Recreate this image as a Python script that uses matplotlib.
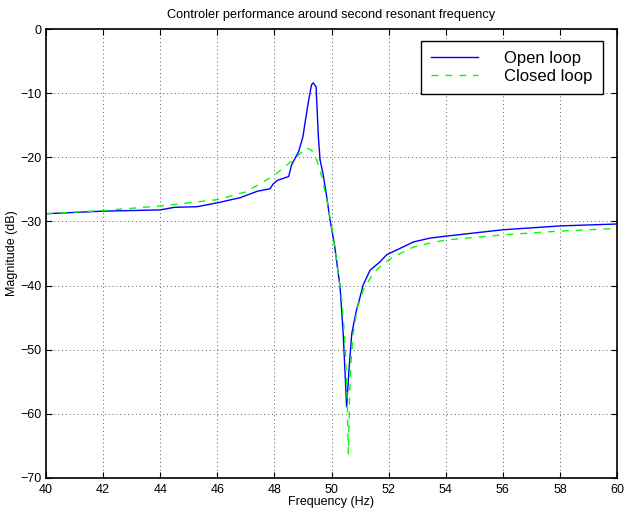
import matplotlib
matplotlib.use("Agg")
import matplotlib.pyplot as plt

plt.rcParams['font.family'] = ['Liberation Sans', 'DejaVu Sans']

title = "Controler performance around second resonant frequency"
xlabel = "Frequency (Hz)"
ylabel = "Magnitude (dB)"
labels = ["Open loop", "Closed loop"]

f_open = [40, 42, 44, 44.5, 45.3, 46, 46.8, 47.4, 47.85, 47.95, 48.1, 48.5, 48.6, 48.85, 49.0,
          49.07, 49.2, 49.3, 49.36, 49.46, 49.54, 49.6, 49.7, 49.82, 49.95, 50.1, 50.3,
          50.41, 50.53, 50.62, 50.71, 50.86, 51.0, 51.11, 51.35, 51.7, 51.93, 52.4,
          52.87, 53.45, 54, 56, 58, 60]
m_open = [-28.8, -28.4, -28.2, -27.8, -27.7, -27.1, -26.3, -25.3, -24.9, -24.2, -23.6, -23.0,
          -21.2, -19.1, -16.8, -14.7, -11.1, -8.7, -8.4, -9.0, -16.8, -20.4, -22.5,
          -25.8, -29.8, -33.5, -40.2, -47.5, -58.9, -52.7, -47.5, -44.1, -41.8, -39.9,
          -37.6, -36.3, -35.2, -34.2, -33.2, -32.6, -32.3, -31.3, -30.7, -30.4]

f_closed = [40, 42, 44, 46, 47, 47.5, 48.0, 48.66, 49.13, 49.3, 49.48, 49.66, 49.86,
            50.07, 50.36, 50.47, 50.55, 50.59, 50.63, 50.67, 50.76, 50.9, 51.11, 51.46,
            51.81, 52.17, 52.87, 53.33, 54, 56, 58, 60]
m_closed = [-28.8, -28.3, -27.6, -26.6, -25.4, -24.1, -22.8, -20.4, -18.5, -18.9, -20.4,
            -23.0, -27.2, -32.5, -42.3, -48.5, -58.0, -66.2, -58.0, -52.7, -47.5, -43.6,
            -40.7, -38.1, -36.6, -35.5, -34.0, -33.5, -32.9, -32.1, -31.5, -31.1]

xticks = list(range(40, 61, 2))
yticks = list(range(-70, 1, 10))

fig = plt.figure(figsize=(6.24, 5.17), dpi=100)
ax = fig.add_axes([46/624, 1 - 478/517, (617-46)/624, (478-29)/517])

ax.plot(f_open, m_open, color=(0, 0, 1), lw=1.0, label=labels[0])
ax.plot(f_closed, m_closed, color=(0, 1, 0), lw=1.0, ls=(0, (5, 5)), label=labels[1])

ax.set_xlim(40, 60)
ax.set_ylim(-70, 0)
ax.set_xticks(xticks)
ax.set_yticks(yticks)
ax.set_yticklabels([("\u2212%d" % -v) if v < 0 else "%d" % v for v in yticks])
ax.tick_params(direction='in', top=True, right=True, labelsize=9, length=4, width=0.8)
ax.tick_params(axis='x', pad=4)
ax.tick_params(axis='y', pad=3)
ax.grid(True, ls=(0, (1, 3)), color='0.35', lw=0.7)
for s in ax.spines.values():
    s.set_linewidth(1.2)

ax.set_title(title, fontsize=9.2, pad=8)
ax.set_xlabel(xlabel, fontsize=9, labelpad=0)
ax.set_ylabel(ylabel, fontsize=9, labelpad=2)

leg = ax.legend(loc='upper right', fontsize=12, fancybox=False, framealpha=1,
                edgecolor='black', handlelength=2.8, handletextpad=1.6,
                borderpad=0.6, labelspacing=0.15, borderaxespad=0,
                bbox_to_anchor=(0.975, 0.973))
leg.get_frame().set_linewidth(1.0)

fig.savefig("out.png", dpi=100)
